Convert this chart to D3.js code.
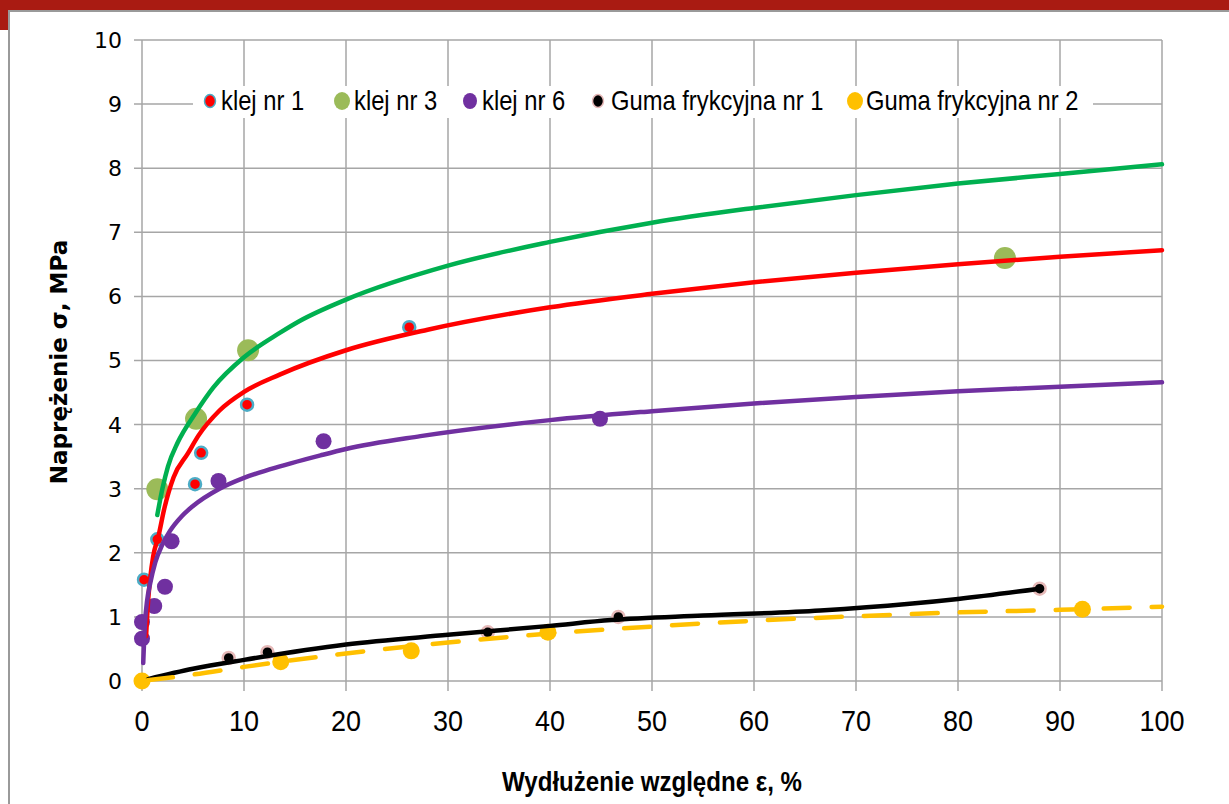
<!DOCTYPE html>
<html>
<head>
<meta charset="utf-8">
<script src="https://cdn.jsdelivr.net/npm/d3@7"></script>
<style>
  html, body { margin: 0; padding: 0; background: #fff; }
  svg { display: block; }
</style>
</head>
<body>
<div id="chart"></div>
<script>
// --- data ---
const seriesNames = ['klej nr 1', 'klej nr 3', 'klej nr 6', 'Guma frykcyjna nr 1', 'Guma frykcyjna nr 2'];

const klej1X = [0, 0.2, 1.5, 5.2, 5.8, 10.3, 26.2];
const klej1Y = [0, 1.58, 2.21, 3.07, 3.56, 4.31, 5.52];
const klej3X = [1.5, 5.3, 10.4, 84.6];
const klej3Y = [2.99, 4.09, 5.16, 6.6];
const klej6X = [0, 0, 1.2, 2.25, 2.9, 7.5, 17.8, 44.9];
const klej6Y = [0.66, 0.92, 1.17, 1.47, 2.18, 3.12, 3.74, 4.09];
const guma1X = [0, 8.5, 12.3, 33.9, 46.7, 88.0];
const guma1Y = [0, 0.36, 0.45, 0.76, 1.0, 1.44];
const guma2X = [0, 13.6, 26.4, 39.8, 92.2];
const guma2Y = [0, 0.3, 0.47, 0.76, 1.12];

// trend lines as drawn in the picture
const trend1X = [0.4, 0.6, 0.8, 1.1, 1.6, 2.2, 3.1, 4.5, 5.5, 7.6, 10, 13.5, 20, 28, 40, 50, 60, 70, 80, 90, 100];
const trend1Y = [0.7, 1.25, 1.6, 1.95, 2.25, 2.7, 3.18, 3.55, 3.82, 4.22, 4.51, 4.78, 5.16, 5.48, 5.83, 6.04, 6.22, 6.37, 6.5, 6.62, 6.72];
const trend3X = [1.5, 2, 2.55, 3.5, 5.2, 7, 10, 13.5, 15.5, 20, 30, 40, 50, 60, 70, 80, 90, 100];
const trend3Y = [2.59, 3.0, 3.35, 3.72, 4.17, 4.58, 5.05, 5.43, 5.62, 5.95, 6.48, 6.85, 7.15, 7.38, 7.58, 7.76, 7.91, 8.06];
const trend6X = [0.12, 0.3, 0.5, 0.8, 1.3, 2, 2.7, 3.9, 5, 7.6, 10, 12.5, 17.5, 20, 27.3, 40, 50, 60, 70, 80, 90, 100];
const trend6Y = [0.28, 0.92, 1.25, 1.52, 1.85, 2.13, 2.33, 2.57, 2.73, 3.0, 3.17, 3.3, 3.52, 3.62, 3.82, 4.07, 4.21, 4.33, 4.43, 4.52, 4.59, 4.66];
const trendG1X = [0.6, 5, 10, 20, 30, 40, 46, 55, 66.5, 75, 80, 88];
const trendG1Y = [0.03, 0.19, 0.33, 0.57, 0.72, 0.86, 0.95, 1.02, 1.1, 1.2, 1.28, 1.44];
const trendG2X = [0.5, 5, 10, 20, 30, 40, 50, 60, 70, 80, 90, 100];
const trendG2Y = [0.01, 0.1, 0.22, 0.43, 0.6, 0.74, 0.85, 0.94, 1.01, 1.07, 1.11, 1.16];

const xTicks = [0, 10, 20, 30, 40, 50, 60, 70, 80, 90, 100];
const yTicks = [0, 1, 2, 3, 4, 5, 6, 7, 8, 9, 10];

// --- styles ---
const styles = [
    { fill: '#FF0000', stroke: '#4BACC6', sw: 2.5, r: 6, line: '#FF0000', dash: null, legR: 5.5 },
    { fill: '#9BBB59', stroke: 'none', sw: 0, r: 11, line: '#00B050', dash: null, legR: 8 },
    { fill: '#7030A0', stroke: 'none', sw: 0, r: 8, line: '#7030A0', dash: null, legR: 7 },
    { fill: '#000000', stroke: '#E6B9B8', sw: 2.5, r: 6, line: '#000000', dash: null, legR: 5.5 },
    { fill: '#FFC000', stroke: 'none', sw: 0, r: 8.5, line: '#FFC000', dash: '26,22', legR: 8 }
];
const narrowFont = '"Liberation Sans", Arial, sans-serif';

const W = 1229, H = 804;
const margin = { top: 40, left: 142, right: 67, bottom: 123 };
const width = W - margin.left - margin.right;
const height = H - margin.top - margin.bottom;

const svg = d3.select('#chart').append('svg')
    .attr('width', W)
    .attr('height', H);

// slide frame
svg.append('rect').attr('x', 0).attr('y', 0).attr('width', W).attr('height', 10).attr('fill', '#A91B12');
svg.append('rect').attr('x', 0).attr('y', 0).attr('width', 8).attr('height', 30).attr('fill', '#A91B12');
svg.append('line').attr('x1', 8).attr('x2', W).attr('y1', 11).attr('y2', 11)
    .attr('stroke', '#9a9a9a').attr('stroke-width', 2);
svg.append('line').attr('x1', 9).attr('x2', 9).attr('y1', 10).attr('y2', H)
    .attr('stroke', '#9a9a9a').attr('stroke-width', 2);

const g = svg.append('g')
    .attr('transform', `translate(${margin.left},${margin.top})`);

const x = d3.scaleLinear().domain([0, 100]).range([0, width]);
const y = d3.scaleLinear().domain([0, 10]).range([height, 0]);

// grid
g.append('g').selectAll('line.h').data(yTicks).enter().append('line')
    .attr('x1', -8).attr('x2', width)
    .attr('y1', d => y(d)).attr('y2', d => y(d))
    .attr('stroke', '#a6a6a6').attr('stroke-width', 1.5);
g.append('g').selectAll('line.v').data(xTicks).enter().append('line')
    .attr('x1', d => x(d)).attr('x2', d => x(d))
    .attr('y1', 0).attr('y2', height + 10)
    .attr('stroke', '#a6a6a6').attr('stroke-width', 1.5);

// tick labels
g.append('g').selectAll('text').data(yTicks).enter().append('text')
    .attr('x', -20).attr('y', d => y(d)).attr('dy', '0.36em')
    .attr('text-anchor', 'end')
    .style('font-family', '"DejaVu Sans", Verdana, sans-serif')
    .style('font-size', '22px')
    .text(d => d);
g.append('g').selectAll('text').data(xTicks).enter().append('text')
    .attr('transform', d => `translate(${x(d)},${height + 50}) scale(0.9,1)`)
    .attr('text-anchor', 'middle')
    .style('font-family', narrowFont)
    .style('font-size', '30px')
    .text(d => d);

// axis titles
svg.append('text')
    .attr('transform', 'translate(652,791) scale(0.86,1)')
    .attr('text-anchor', 'middle')
    .style('font-family', narrowFont)
    .style('font-size', '28px').style('font-weight', 'bold')
    .text('Wydłużenie względne ε, %');
svg.append('text')
    .attr('transform', 'translate(67,362) rotate(-90)')
    .attr('text-anchor', 'middle')
    .style('font-family', '"DejaVu Sans", Verdana, sans-serif')
    .style('font-size', '23px').style('font-weight', 'bold')
    .text('Naprężenie σ, MPa');

// markers
const pointSets = [
    d3.zip(klej1X, klej1Y), d3.zip(klej3X, klej3Y), d3.zip(klej6X, klej6Y),
    d3.zip(guma1X, guma1Y), d3.zip(guma2X, guma2Y)
];
const trendSets = [
    d3.zip(trend1X, trend1Y), d3.zip(trend3X, trend3Y), d3.zip(trend6X, trend6Y),
    d3.zip(trendG1X, trendG1Y), d3.zip(trendG2X, trendG2Y)
];

pointSets.forEach((pts, i) => {
    const s = styles[i];
    g.append('g').selectAll('circle').data(pts).enter().append('circle')
        .attr('cx', d => x(d[0])).attr('cy', d => y(d[1]))
        .attr('r', s.r)
        .attr('fill', s.fill)
        .attr('stroke', s.stroke)
        .attr('stroke-width', s.sw);
});

// trend lines
const line = d3.line()
    .x(d => x(d[0])).y(d => y(d[1]))
    .curve(d3.curveMonotoneX);

trendSets.forEach((pts, i) => {
    const s = styles[i];
    g.append('path')
        .datum(pts)
        .attr('d', line)
        .attr('fill', 'none')
        .attr('stroke', s.line)
        .attr('stroke-width', 4.5)
        .attr('stroke-linecap', 'round')
        .attr('stroke-dasharray', s.dash);
});

// legend
const legendMarkX = [210, 342, 470, 598, 855];
const legendTextX = [221, 354, 482, 611, 866];
svg.append('rect')
    .attr('x', 193).attr('y', 86).attr('width', 900).attr('height', 32)
    .attr('fill', '#fff');
const leg = svg.append('g');
seriesNames.forEach((name, i) => {
    const s = styles[i];
    leg.append('ellipse')
        .attr('cx', legendMarkX[i]).attr('cy', 101)
        .attr('rx', s.legR).attr('ry', s.legR + 1)
        .attr('fill', s.fill)
        .attr('stroke', s.stroke)
        .attr('stroke-width', s.sw > 0 ? 1.5 : 0);
    leg.append('text')
        .attr('transform', `translate(${legendTextX[i]},110) scale(0.88,1)`)
        .style('font-family', narrowFont)
        .style('font-size', '27px')
        .text(name);
});
</script>
</body>
</html>
